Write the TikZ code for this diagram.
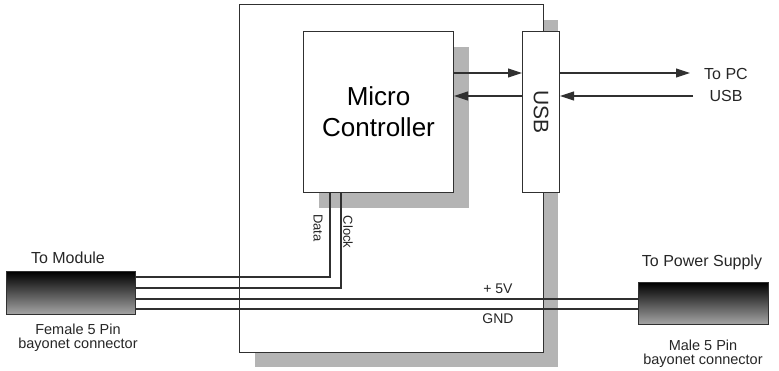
\documentclass[tikz,border=0pt]{standalone}
\usepackage{fontspec}
\setmainfont{Liberation Sans}
\usetikzlibrary{arrows.meta}
\definecolor{shadowgray}{HTML}{B4B4B4}
\definecolor{linecol}{HTML}{303030}
\tikzset{
  blk/.style={draw=linecol, line width=1.1pt, fill=white, inner sep=0pt},
  shadowbox/.style={fill=shadowgray, draw=none},
  wire/.style={draw=linecol, line width=1.1pt},
  arr/.style={draw=linecol, line width=1.1pt, -{Triangle[length=14pt,width=9pt]}},
  lbl/.style={inner sep=0pt, align=center, text=black!85},
  plug/.style={draw=linecol, line width=1pt, top color=black, bottom color=black!35, inner sep=0pt}
}
\begin{document}
\begin{tikzpicture}[x=1pt,y=-1pt]
\useasboundingbox (0,0) rectangle (779,371);
% shadows
\fill[shadowgray] (255,20) rectangle (558,367);
% big box
\node[blk, anchor=north west, minimum width=304pt, minimum height=348pt] (board) at (239,4) {};
% MC shadow
\fill[shadowgray] (319,47) rectangle (469,208);
\node[blk, anchor=north west, minimum width=150pt, minimum height=161pt,
      font=\fontsize{26}{31}\selectfont, align=center] (mc) at (303,31) {Micro\\Controller};
% USB
\node[blk, anchor=north west, minimum width=37pt, minimum height=161pt] (usb) at (522,31) {};
\node[lbl, rotate=-90, font=\fontsize{21}{24}\selectfont] (usbtxt) at (usb.center) {USB};
% coordinates
\coordinate (ya) at (0,73);
\coordinate (yb) at (0,96);
\coordinate (w1) at (0,277);
\coordinate (w2) at (0,288);
\coordinate (w3) at (0,299);
\coordinate (w4) at (0,309);
\coordinate (dx) at (330,0);
\coordinate (cx) at (341,0);
% To PC
\node[lbl, font=\fontsize{16}{22}\selectfont] (topc) at (726,85) {To PC\\USB};
\coordinate (pcout) at (690,73);
\coordinate (pcin) at (693,96);
% arrows
\draw[arr] (mc.east |- ya) -- (usb.west |- ya);
\draw[arr] (usb.west |- yb) -- (mc.east |- yb);
\draw[arr] (usb.east |- ya) -- (pcout);
\draw[arr] (pcin) -- (usb.east |- yb);
% connectors
\node[plug, anchor=north west, minimum width=129pt, minimum height=43pt] (lconn) at (6,271) {};
\node[plug, anchor=north west, minimum width=130pt, minimum height=42pt] (rconn) at (638,282) {};
% wires
\draw[wire] (mc.south -| dx) |- (lconn.east |- w1);
\draw[wire] (mc.south -| cx) |- (lconn.east |- w2);
\draw[wire] (lconn.east |- w3) -- (rconn.west |- w3);
\draw[wire] (lconn.east |- w4) -- (rconn.west |- w4);
% wire labels
\node[lbl, rotate=-90, font=\fontsize{13}{15}\selectfont] (datal) at (318,228) {Data};
\node[lbl, rotate=-90, font=\fontsize{13}{15}\selectfont] (clockl) at (348,232) {Clock};
\node[lbl, font=\fontsize{14}{16}\selectfont] (v5) at (498,289) {+ 5V};
\node[lbl, font=\fontsize{14}{16}\selectfont] (gnd) at (498,319) {GND};
% connector labels
\node[lbl, font=\fontsize{16}{19}\selectfont] (tomod) at (68,258) {To Module};
\node[lbl, font=\fontsize{14.5}{14}\selectfont] (fem) at (78,338) {Female 5 Pin\\bayonet connector};
\node[lbl, font=\fontsize{16}{19}\selectfont] (tops) at (702,262) {To Power Supply};
\node[lbl, font=\fontsize{14.5}{14}\selectfont] (male) at (703,354) {Male 5 Pin\\bayonet connector};
\end{tikzpicture}
\end{document}
